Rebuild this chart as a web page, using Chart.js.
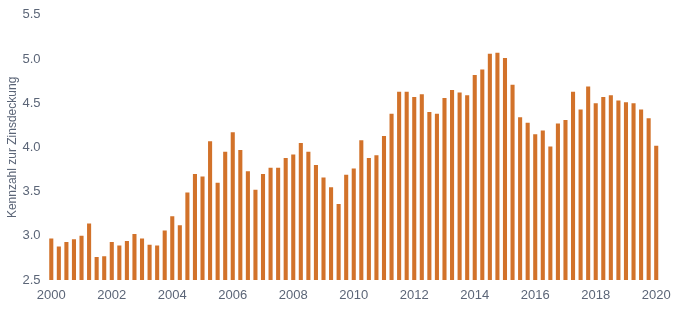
<!DOCTYPE html>
<html>
<head>
<meta charset="utf-8">
<script src="https://cdn.jsdelivr.net/npm/chart.js@4/dist/chart.umd.min.js"></script>
<style>
  html, body { margin: 0; padding: 0; background: #fff; }
  #wrap { width: 680px; height: 312px; }
</style>
</head>
<body>
<div id="wrap"><canvas id="coverage-chart"></canvas></div>
<script>
// Quarterly interest coverage ratio, 2000 Q1 to 2020 Q1
const years = [2000, 2001, 2002, 2003, 2004, 2005, 2006, 2007, 2008, 2009,
    2010, 2011, 2012, 2013, 2014, 2015, 2016, 2017, 2018, 2019, 2020];
const quarters = ['Q1', 'Q2', 'Q3', 'Q4'];

const coverage = [
    2.97, 2.88, 2.93, 2.96, 3.00, 3.14, 2.76, 2.77,
    2.93, 2.89, 2.94, 3.02, 2.97, 2.90, 2.89, 3.06,
    3.22, 3.12, 3.49, 3.70, 3.67, 4.07, 3.60, 3.95,
    4.17, 3.97, 3.73, 3.52, 3.70, 3.77, 3.77, 3.88,
    3.92, 4.05, 3.95, 3.80, 3.66, 3.55, 3.36, 3.69,
    3.76, 4.08, 3.88, 3.91, 4.13, 4.38, 4.63, 4.63,
    4.57, 4.60, 4.40, 4.38, 4.56, 4.65, 4.62, 4.59,
    4.82, 4.88, 5.06, 5.07, 5.01, 4.71, 4.34, 4.28,
    4.15, 4.19, 4.01, 4.27, 4.31, 4.63, 4.43, 4.69,
    4.50, 4.57, 4.59, 4.53, 4.51, 4.50, 4.43, 4.33,
    4.02
];

const yTicks = [2.5, 3.0, 3.5, 4.0, 4.5, 5.0, 5.5];

// one label per bar, "2000 Q1" ... "2020 Q1"
const labels = [];
years.forEach(y => quarters.forEach(q => labels.push(y + ' ' + q)));
labels.length = coverage.length;

const textColor = '#5b6577';
const barColor = '#d2722a';

const ctx = document.getElementById('coverage-chart').getContext('2d');
new Chart(ctx, {
    type: 'bar',
    data: {
        labels: labels,
        datasets: [{
            label: 'Kennzahl zur Zinsdeckung',
            data: coverage,
            backgroundColor: barColor,
            borderWidth: 0,
            barPercentage: 0.54,
            categoryPercentage: 1.0
        }]
    },
    options: {
        responsive: true,
        maintainAspectRatio: false,
        animation: false,
        layout: {
            padding: { top: 4, right: 20, bottom: 0, left: 0 }
        },
        plugins: {
            legend: { display: false },
            tooltip: { enabled: false }
        },
        scales: {
            x: {
                grid: { display: false, drawTicks: false },
                border: { display: false },
                ticks: {
                    autoSkip: false,
                    maxRotation: 0,
                    padding: 8,
                    color: textColor,
                    font: { family: 'Liberation Sans', size: 13 },
                    callback: (val, i) => i % 8 === 0 ? labels[i].slice(0, 4) : ''
                },
                afterFit: axis => { axis.height = 32; }
            },
            y: {
                min: 2.5,
                max: 5.5,
                afterBuildTicks: axis => { axis.ticks = yTicks.map(v => ({ value: v })); },
                grid: { display: false, drawTicks: false },
                border: { display: false },
                ticks: {
                    padding: 7,
                    color: textColor,
                    font: { family: 'Liberation Sans', size: 13 },
                    callback: v => v.toFixed(1)
                },
                title: {
                    display: true,
                    text: 'Kennzahl zur Zinsdeckung',
                    color: textColor,
                    padding: { top: 5, bottom: 0 },
                    font: { family: 'Liberation Sans', size: 12 }
                },
                afterFit: axis => { axis.width = 47.5; }
            }
        }
    }
});
</script>
</body>
</html>
